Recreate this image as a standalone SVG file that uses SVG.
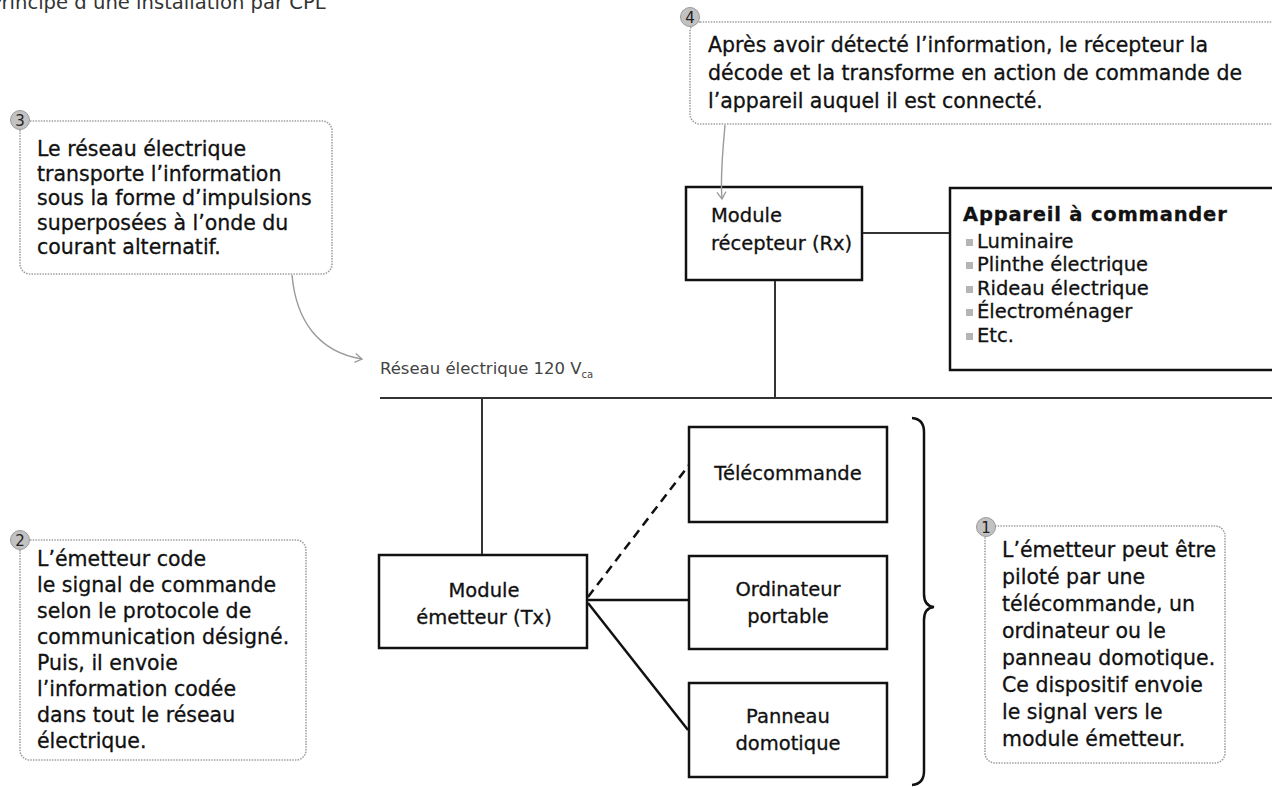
<svg xmlns="http://www.w3.org/2000/svg" width="1272" height="787" viewBox="0 0 1272 787">
  <style>
    .body { font-family: "DejaVu Sans", "Liberation Sans", sans-serif; font-size: 20.5px; fill: #111; stroke: #111; stroke-width: 0.3; }
    .lbl { font-family: "DejaVu Sans", "Liberation Sans", sans-serif; font-size: 19.5px; fill: #111; stroke: #111; stroke-width: 0.3; }
    .mid { text-anchor: middle; }
    .box { fill: #fff; stroke: #111; stroke-width: 2.5; }
    .callout { fill: #fff; stroke: #a0a0a0; stroke-width: 1.6; stroke-dasharray: 1.5 1.2; }
    .badge { fill: #c2c2c2; stroke: #9a9a9a; stroke-width: 1; }
    .num { font-family: "DejaVu Sans", "Liberation Sans", sans-serif; font-size: 15px; fill: #222; text-anchor: middle; }
    .wire { fill: none; stroke: #333; stroke-width: 2; }
    .link { fill: none; stroke: #111; stroke-width: 2.5; }
    .pointer { fill: none; stroke: #9a9a9a; stroke-width: 1.4; }
    .bullet { fill: #b5b5b5; }
  </style>
  <defs>
    <marker id="openhead" markerWidth="12" markerHeight="12" refX="9" refY="6" orient="auto" markerUnits="userSpaceOnUse">
      <path d="M2,1.5 L9,6 L2,10.5" fill="none" stroke="#9a9a9a" stroke-width="1.3"/>
    </marker>
  </defs>

  <!-- heading, partly outside the page -->
  <text x="-10" y="9" font-family="DejaVu Sans, Liberation Sans, sans-serif" font-size="19.6" fill="#333">Principe d’une installation par CPL</text>

  <!-- network label -->
  <g id="network-label">
    <text x="380" y="374" font-family="DejaVu Sans, Liberation Sans, sans-serif" font-size="16.5" fill="#444">Réseau électrique 120 V<tspan font-size="10" dy="4">ca</tspan></text>
  </g>

  <g id="note-4">
    <rect class="callout" x="690" y="22" width="600" height="102" rx="10"/>
    <circle class="badge" cx="690" cy="17" r="9.5"/>
    <text class="num" x="690" y="23">4</text>
    <text class="body" x="708" y="52" font-size="21">Après avoir détecté l’information, le récepteur la</text>
    <text class="body" x="708" y="80" font-size="21">décode et la transforme en action de commande de</text>
    <text class="body" x="708" y="108" font-size="21">l’appareil auquel il est connecté.</text>
  </g>

  <g id="note-3">
    <rect class="callout" x="20" y="121" width="312" height="153" rx="10"/>
    <circle class="badge" cx="20" cy="120" r="9.5"/>
    <text class="num" x="20" y="126">3</text>
    <text class="body" x="37" y="156">Le réseau électrique</text>
    <text class="body" x="37" y="180.5">transporte l’information</text>
    <text class="body" x="37" y="205">sous la forme d’impulsions</text>
    <text class="body" x="37" y="229.5">superposées à l’onde du</text>
    <text class="body" x="37" y="254">courant alternatif.</text>
  </g>

  <g id="note-2">
    <rect class="callout" x="20" y="540" width="286" height="220" rx="10"/>
    <circle class="badge" cx="20" cy="540" r="9.5"/>
    <text class="num" x="20" y="546">2</text>
    <text class="body" x="37" y="566">L’émetteur code</text>
    <text class="body" x="37" y="592">le signal de commande</text>
    <text class="body" x="37" y="618">selon le protocole de</text>
    <text class="body" x="37" y="644">communication désigné.</text>
    <text class="body" x="37" y="670">Puis, il envoie</text>
    <text class="body" x="37" y="696">l’information codée</text>
    <text class="body" x="37" y="722">dans tout le réseau</text>
    <text class="body" x="37" y="748">électrique.</text>
  </g>

  <g id="note-1">
    <rect class="callout" x="985" y="526" width="240" height="237" rx="10"/>
    <circle class="badge" cx="986" cy="527" r="9.5"/>
    <text class="num" x="986" y="533">1</text>
    <text class="body" x="1002" y="557">L’émetteur peut être</text>
    <text class="body" x="1002" y="584">piloté par une</text>
    <text class="body" x="1002" y="611">télécommande, un</text>
    <text class="body" x="1002" y="638">ordinateur ou le</text>
    <text class="body" x="1002" y="665">panneau domotique.</text>
    <text class="body" x="1002" y="692">Ce dispositif envoie</text>
    <text class="body" x="1002" y="719">le signal vers le</text>
    <text class="body" x="1002" y="746">module émetteur.</text>
  </g>

  <g id="rx-module">
    <rect class="box" x="686" y="187" width="176" height="93"/>
    <text class="lbl" x="711" y="222">Module</text>
    <text class="lbl" x="711" y="250">récepteur (Rx)</text>
  </g>

  <g id="appliance">
    <rect class="box" x="950" y="188" width="330" height="182" stroke-width="3"/>
    <text class="lbl" x="963" y="221" font-weight="bold" font-size="21.5" letter-spacing="0.8">Appareil à commander</text>
    <rect class="bullet" x="966" y="239" width="7" height="7"/>
    <text class="lbl" x="977" y="248" font-size="20.5">Luminaire</text>
    <rect class="bullet" x="966" y="262" width="7" height="7"/>
    <text class="lbl" x="977" y="271" font-size="20.5">Plinthe électrique</text>
    <rect class="bullet" x="966" y="286" width="7" height="7"/>
    <text class="lbl" x="977" y="295" font-size="20.5">Rideau électrique</text>
    <rect class="bullet" x="966" y="309" width="7" height="7"/>
    <text class="lbl" x="977" y="318" font-size="20.5">Électroménager</text>
    <rect class="bullet" x="966" y="333" width="7" height="7"/>
    <text class="lbl" x="977" y="342" font-size="20.5">Etc.</text>
  </g>

  <g id="tx-module">
    <rect class="box" x="379" y="555" width="208" height="93"/>
    <text class="lbl mid" x="484" y="597">Module</text>
    <text class="lbl mid" x="484" y="624">émetteur (Tx)</text>
  </g>

  <g id="remote">
    <rect class="box" x="689" y="427" width="198" height="95"/>
    <text class="lbl mid" x="788" y="480">Télécommande</text>
  </g>

  <g id="laptop">
    <rect class="box" x="689" y="556" width="198" height="93"/>
    <text class="lbl mid" x="788" y="596">Ordinateur</text>
    <text class="lbl mid" x="788" y="623">portable</text>
  </g>

  <g id="home-panel">
    <rect class="box" x="689" y="683" width="198" height="94"/>
    <text class="lbl mid" x="788" y="723">Panneau</text>
    <text class="lbl mid" x="788" y="750">domotique</text>
  </g>

  <!-- connectors -->
  <g id="connectors">
    <!-- power line bus -->
    <line class="wire" x1="380" y1="398" x2="1272" y2="398"/>
    <line class="wire" x1="775" y1="281" x2="775" y2="398"/>
    <line class="wire" x1="482" y1="398" x2="482" y2="554"/>
    <line class="wire" x1="863" y1="233" x2="949" y2="233"/>
    <!-- control sources to transmitter -->
    <line class="link" x1="588" y1="597" x2="689" y2="465" stroke-dasharray="9 6"/>
    <line class="link" x1="588" y1="600" x2="688" y2="600"/>
    <line class="link" x1="588" y1="603" x2="688" y2="730"/>
    <!-- grouping brace -->
    <path class="link" d="M912,418 Q924,419 924,432 L924,594 Q924,606 934,607 Q924,608 924,620 L924,771 Q924,784 912,785"/>
    <!-- callout pointers -->
    <path class="pointer" d="M292,275 C296,320 318,352 362,359" marker-end="url(#openhead)"/>
    <path class="pointer" d="M725,125 C723,150 720,175 722,199" marker-end="url(#openhead)"/>
  </g>
</svg>
